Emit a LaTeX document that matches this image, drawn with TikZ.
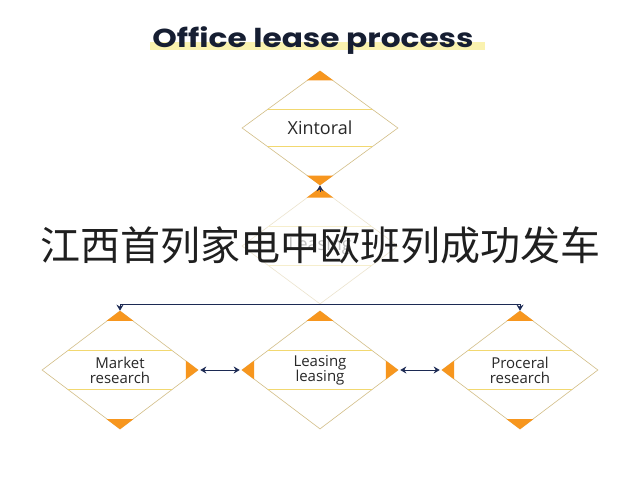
\documentclass[tikz,border=0pt]{standalone}
\usepackage{fontspec}
\setmainfont{Open Sans}
\newfontfamily\titlefont{Poppins}
\newfontfamily\cjkfont{Noto Sans CJK SC}
\usetikzlibrary{shapes.geometric,calc,arrows.meta}
\definecolor{orng}{RGB}{247,150,30}
\definecolor{tanline}{RGB}{210,190,135}
\definecolor{ylw}{RGB}{242,216,112}
\definecolor{navy}{RGB}{28,42,84}
\definecolor{titlecol}{RGB}{22,30,50}
\definecolor{hilite}{RGB}{250,242,175}
\definecolor{fadeline}{RGB}{236,228,206}
\definecolor{fadeylw}{RGB}{246,238,205}
\definecolor{txt}{RGB}{40,40,40}
\newcommand\tipN[1]{\fill[orng] (#1.north) -- ($(#1.north)!0.17!(#1.west)$) -- ($(#1.north)!0.17!(#1.east)$) -- cycle;}
\newcommand\tipS[1]{\fill[orng] (#1.south) -- ($(#1.south)!0.17!(#1.west)$) -- ($(#1.south)!0.17!(#1.east)$) -- cycle;}
\newcommand\tipE[1]{\fill[orng] (#1.east) -- ($(#1.east)!0.16!(#1.north)$) -- ($(#1.east)!0.16!(#1.south)$) -- cycle;}
\newcommand\tipW[1]{\fill[orng] (#1.west) -- ($(#1.west)!0.16!(#1.north)$) -- ($(#1.west)!0.16!(#1.south)$) -- cycle;}
\newcommand\ylines[2]{\draw[#1] ($(#2.west)!0.33!(#2.north)$) -- ($(#2.east)!0.33!(#2.north)$);
  \draw[#1] ($(#2.west)!0.33!(#2.south)$) -- ($(#2.east)!0.33!(#2.south)$);}
\tikzset{
  dia/.style={shape=diamond, draw=tanline, line width=0.6pt, inner sep=0pt,
    minimum width=156pt, minimum height=116pt, text=txt, align=center,
    font=\fontsize{15}{15}\selectfont},
  yl/.style={ylw, line width=1pt},
  conn/.style={navy, line width=1pt},
  tip/.style={-{Stealth[length=6pt,width=7pt]}},
  dtip/.style={{Stealth[length=6pt,width=7pt]}-{Stealth[length=6pt,width=7pt]}, shorten <=2pt, shorten >=2pt},
}
\begin{document}
\begin{tikzpicture}[x=1pt,y=-1pt]
\useasboundingbox (0,0) rectangle (640,480);
\fill[white] (0,0) rectangle (640,480);
% title
\fill[hilite] (150,42) rectangle (485,50);
\node[anchor=base, text=titlecol, font=\titlefont\bfseries\fontsize{26}{30}\selectfont] (title) at (313,47) {\scalebox{1.2}[1]{Office lease process}};
% diamonds
\node[dia, minimum height=114pt, font=\fontsize{18}{20}\selectfont] (top) at (320,128) {Xintoral};
\node[dia, draw=fadeline, text=black!25, font=\fontsize{18}{20}\selectfont] (mid) at (320,246) {Leasing};
\node[dia, minimum height=118pt] (L) at (120,370) {Market\\research};
\node[dia, minimum height=118pt] (B) at (320,370) {Leasing\\leasing};
\node[dia, minimum height=118pt] (R) at (520,370) {Proceral\\research};
\ylines{yl}{top}
\ylines{fadeylw, line width=1pt}{mid}
\ylines{yl}{L}
\ylines{yl}{B}
\ylines{yl}{R}
\tipN{top}\tipS{top}
\tipN{mid}
\tipN{L}\tipS{L}\tipE{L}
\tipN{B}\tipW{B}\tipE{B}
\tipN{R}\tipW{R}\tipS{R}
% connectors
\draw[conn, tip] ($(mid.north)+(0,4)$) -- (top.south);
\draw[conn, tip] (mid.south) -| (L.north);
\draw[conn, tip] (mid.south) -| (R.north);
\draw[conn, dtip] (L.east) -- (B.west);
\draw[conn, dtip] (B.east) -- (R.west);
% overlay text
\node[text=black!88, font=\cjkfont\fontsize{40}{44}\selectfont, inner sep=0pt] (cn) at (320,245) {江西首列家电中欧班列成功发车};
\end{tikzpicture}
\end{document}
